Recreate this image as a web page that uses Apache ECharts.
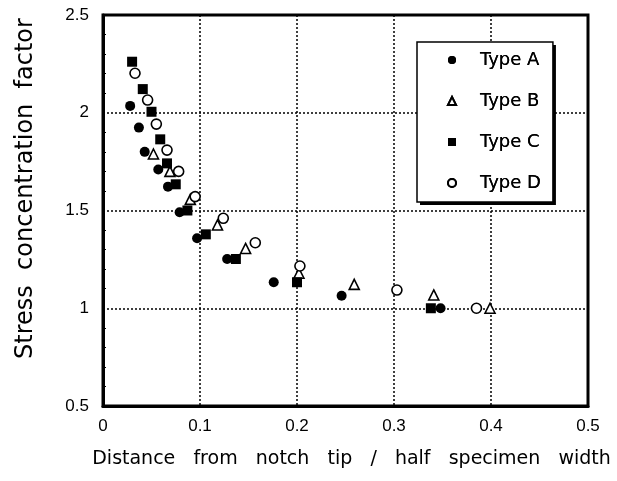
<!DOCTYPE html>
<html>
<head>
<meta charset="utf-8">
<script src="https://cdn.jsdelivr.net/npm/echarts@6/dist/echarts.min.js"></script>
<style>
  html, body { margin: 0; padding: 0; background: #fff; }
  #chart { width: 617px; height: 481px; }
</style>
</head>
<body>
<div id="chart"></div>
<script>
// Type A - filled circles
var typeA_x = [0.028, 0.037, 0.043, 0.057, 0.067, 0.079, 0.097, 0.128, 0.176, 0.246, 0.348];
var typeA_y = [2.035, 1.924, 1.800, 1.710, 1.622, 1.491, 1.358, 1.252, 1.133, 1.064, 1.000];
// Type B - open triangles
var typeB_x = [0.052, 0.069, 0.090, 0.118, 0.147, 0.202, 0.259, 0.341, 0.399];
var typeB_y = [1.789, 1.700, 1.557, 1.426, 1.306, 1.179, 1.122, 1.068, 1.000];
// Type C - filled squares
var typeC_x = [0.030, 0.041, 0.050, 0.059, 0.066, 0.075, 0.087, 0.106, 0.137, 0.200, 0.338];
var typeC_y = [2.261, 2.121, 2.005, 1.864, 1.741, 1.634, 1.500, 1.378, 1.252, 1.133, 1.000];
// Type D - open circles
var typeD_x = [0.033, 0.046, 0.055, 0.066, 0.078, 0.095, 0.124, 0.157, 0.203, 0.303, 0.385];
var typeD_y = [2.202, 2.065, 1.942, 1.809, 1.700, 1.571, 1.460, 1.335, 1.216, 1.093, 1.000];

var legendNames = ['Type A', 'Type B', 'Type C', 'Type D'];
var xTicks = [0, 0.1, 0.2, 0.3, 0.4, 0.5];
var yTicks = [0.5, 1, 1.5, 2, 2.5];

function pairs(xs, ys) {
    return xs.map(function (x, i) { return [x, ys[i]]; });
}

var chart = echarts.init(document.getElementById('chart'));

var tickFont = {
    color: '#000',
    fontFamily: 'Liberation Sans',
    fontSize: 17
};
var gridLine = {
    show: true,
    lineStyle: { color: '#000', width: 1.5, type: [2, 2] }
};

// legend box: one copy draws the hard drop shadow, the other the frame
function legendBox(withShadow) {
    return {
        orient: 'vertical',
        left: 417,
        top: 42,
        z: withShadow ? 4 : 5,
        padding: [9, 12, 10, 30],
        itemGap: 23,
        itemWidth: 8,
        itemHeight: 8,
        backgroundColor: withShadow ? '#fff' : 'transparent',
        borderColor: '#000',
        borderWidth: withShadow ? 0 : 1.5,
        shadowColor: withShadow ? '#000' : 'transparent',
        shadowBlur: 0,
        shadowOffsetX: withShadow ? 3 : 0,
        shadowOffsetY: withShadow ? 3 : 0,
        textStyle: {
            color: '#000',
            fontFamily: 'DejaVu Sans',
            fontSize: 18,
            padding: [0, 0, 0, 19]
        },
        data: legendNames
    };
}

var option = {
    animation: false,
    backgroundColor: '#fff',
    grid: {
        left: 103,
        right: 29,
        top: 15,
        bottom: 75,
        outerBoundsMode: 'none',
        containLabel: false,
        show: true,
        borderColor: '#000',
        borderWidth: 3,
        backgroundColor: 'transparent'
    },
    legend: [legendBox(true), legendBox(false)],
    xAxis: {
        type: 'value',
        min: xTicks[0],
        max: xTicks[xTicks.length - 1],
        interval: 0.1,
        name: 'Distance   from   notch   tip   /   half   specimen   width',
        nameLocation: 'middle',
        nameGap: 44,
        nameTextStyle: {
            color: '#000',
            fontFamily: 'DejaVu Sans',
            fontSize: 19,
            padding: [0, 0, 0, 12]
        },
        axisLine: { show: true, lineStyle: { color: '#000', width: 3 } },
        axisTick: { show: false },
        axisLabel: Object.assign({ margin: 12 }, tickFont),
        splitLine: gridLine
    },
    yAxis: {
        type: 'value',
        min: yTicks[0],
        max: yTicks[yTicks.length - 1],
        interval: 0.5,
        name: 'Stress  concentration  factor',
        nameLocation: 'middle',
        nameGap: 65,
        nameTextStyle: {
            color: '#000',
            fontFamily: 'DejaVu Sans',
            fontSize: 24,
            padding: [0, 0, 0, 44]
        },
        axisLine: { show: true, lineStyle: { color: '#000', width: 3 } },
        axisTick: { show: false, inside: true },
        minorTick: { show: true, splitNumber: 5, length: 3, lineStyle: { color: '#000', width: 1 } },
        axisLabel: Object.assign({ margin: 14 }, tickFont),
        splitLine: gridLine
    },
    series: [
        {
            name: 'Type A',
            type: 'scatter',
            symbol: 'circle',
            symbolSize: 10,
            itemStyle: { color: '#000', opacity: 1 },
            data: pairs(typeA_x, typeA_y)
        },
        {
            name: 'Type B',
            type: 'scatter',
            symbol: 'triangle',
            symbolSize: 10,
            itemStyle: { color: '#fff', borderColor: '#000', borderWidth: 1.6, opacity: 1 },
            data: pairs(typeB_x, typeB_y)
        },
        {
            name: 'Type C',
            type: 'scatter',
            symbol: 'rect',
            symbolSize: 10,
            itemStyle: { color: '#000', opacity: 1 },
            data: pairs(typeC_x, typeC_y)
        },
        {
            name: 'Type D',
            type: 'scatter',
            symbol: 'circle',
            symbolSize: 10,
            itemStyle: { color: '#fff', borderColor: '#000', borderWidth: 1.6, opacity: 1 },
            data: pairs(typeD_x, typeD_y)
        }
    ]
};

chart.setOption(option);
</script>
</body>
</html>
